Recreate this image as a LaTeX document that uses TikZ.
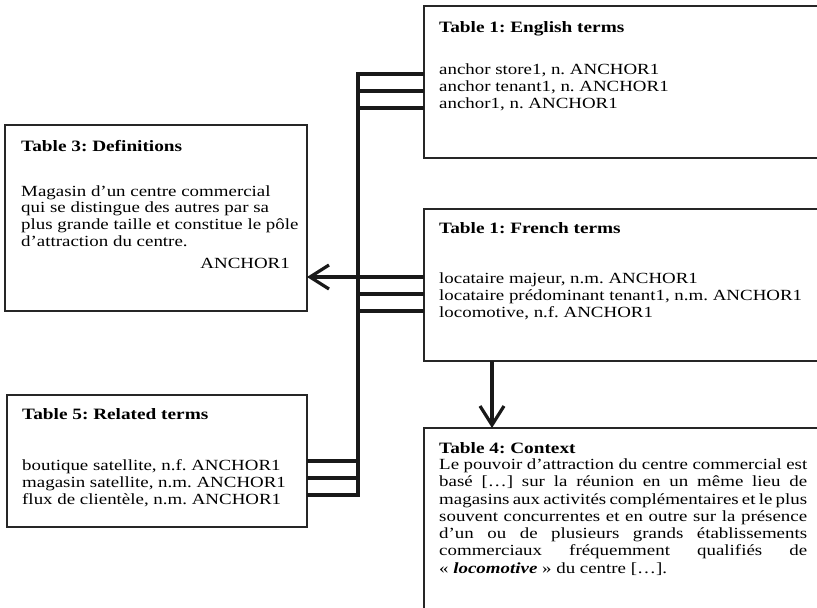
\documentclass[tikz,border=0pt]{standalone}
\usepackage{fontspec}
\setmainfont{Liberation Serif}[FakeStretch=1.22]
\usetikzlibrary{arrows.meta}
\frenchspacing
\begin{document}
\begin{tikzpicture}[x=1pt,y=-1pt,
  box/.style={draw=black!85,line width=1.4pt,anchor=north west,inner sep=0pt,outer sep=0pt},
  txt/.style={anchor=base west,inner sep=0pt,font=\frenchspacing\fontsize{15.5pt}{17.3pt}\selectfont},
  ttl/.style={txt,font=\frenchspacing\fontsize{15.8pt}{17.3pt}\selectfont\bfseries},
  conn/.style={line width=3.2pt,black!90},
  tip/.style={-{Straight Barb[length=19pt,width=24pt]}}]
\path[use as bounding box] (0,0) rectangle (817,608);
\clip (0,0) rectangle (817,608);
\fill[white] (0,0) rectangle (817,608);

% boxes
\node[box,minimum width=420pt,minimum height=152pt] (eng) at (424,6) {};
\node[box,minimum width=420pt,minimum height=152pt] (fr) at (424,209) {};
\node[box,minimum width=420pt,minimum height=230pt] (ctx) at (424,428) {};
\node[box,minimum width=302pt,minimum height=186pt] (defn) at (5,125) {};
\node[box,minimum width=300pt,minimum height=132pt] (rel) at (7,395) {};

% English terms
\node[ttl] (engT) at (439,32) {Table 1: English terms};
\node[txt] (eng1) at (439,74) {anchor store1, n. ANCHOR1};
\node[txt] (eng2) at (439,91) {anchor tenant1, n. ANCHOR1};
\node[txt] (eng3) at (439,108) {anchor1, n. ANCHOR1};

% French terms
\node[ttl] (frT) at (439,233) {Table 1: French terms};
\node[txt] (fr1) at (439,283) {locataire majeur, n.m. ANCHOR1};
\node[txt] (fr2) at (439,300) {locataire prédominant tenant1, n.m. ANCHOR1};
\node[txt] (fr3) at (439,317) {locomotive, n.f. ANCHOR1};

% Definitions
\node[ttl] (defT) at (21,151) {Table 3: Definitions};
\node[txt] (def1) at (21,196) {Magasin d’un centre commercial};
\node[txt] (def2) at (21,212) {qui se distingue des autres par sa};
\node[txt] (def3) at (21,229) {plus grande taille et constitue le pôle};
\node[txt] (def4) at (21,246) {d’attraction du centre.};
\node[txt,anchor=base east] (def5) at (290,268) {ANCHOR1};

% Related terms
\node[ttl] (relT) at (22,419) {Table 5: Related terms};
\node[txt] (rel1) at (22,470) {boutique satellite, n.f. ANCHOR1};
\node[txt] (rel2) at (22,487) {magasin satellite, n.m. ANCHOR1};
\node[txt] (rel3) at (22,504) {flux de clientèle, n.m. ANCHOR1};

% Context
\node[ttl] (ctxT) at (439,453) {Table 4: Context};
\node[txt] (ctx1) at (439,469.5) {\makebox[368pt][s]{Le pouvoir d’attraction du centre commercial est}};
\node[txt] (ctx2) at (439,486.8) {\makebox[368pt][s]{basé […] sur la réunion en un même lieu de}};
\node[txt] (ctx3) at (439,504) {\makebox[368pt][s]{magasins aux activités complémentaires et le plus}};
\node[txt] (ctx4) at (439,521.3) {\makebox[368pt][s]{souvent concurrentes et en outre sur la présence}};
\node[txt] (ctx5) at (439,538.5) {\makebox[368pt][s]{d’un ou de plusieurs grands établissements}};
\node[txt] (ctx6) at (439,555.7) {\makebox[368pt][s]{commerciaux fréquemment qualifiés de}};
\node[txt] (ctx7) at (439,573) {« \textbf{\textit{locomotive}} » du centre […].};

% connector bar
\coordinate (b1) at (358,74);
\coordinate (b2) at (358,91);
\coordinate (b3) at (358,108);
\coordinate (b5) at (358,294);
\coordinate (b6) at (358,311);
\coordinate (b7) at (358,461);
\coordinate (b8) at (358,478);
\coordinate (b9) at (358,495);
\coordinate (ar) at (0,277);
\coordinate (dx) at (492,0);

\draw[conn,line join=miter] (eng.west |- b1) -- (b1) -- (b9) -- (rel.east |- b9);
\draw[conn] (b2) -- (eng.west |- b2);
\draw[conn] (b3) -- (eng.west |- b3);
\draw[conn] (b5) -- (fr.west |- b5);
\draw[conn] (b6) -- (fr.west |- b6);
\draw[conn] (b7) -- (rel.east |- b7);
\draw[conn] (b8) -- (rel.east |- b8);
\draw[conn,tip] (fr.west |- ar) -- (defn.east |- ar);
\draw[conn,tip] (fr.south -| dx) -- (ctx.north -| dx);
\end{tikzpicture}
\end{document}
